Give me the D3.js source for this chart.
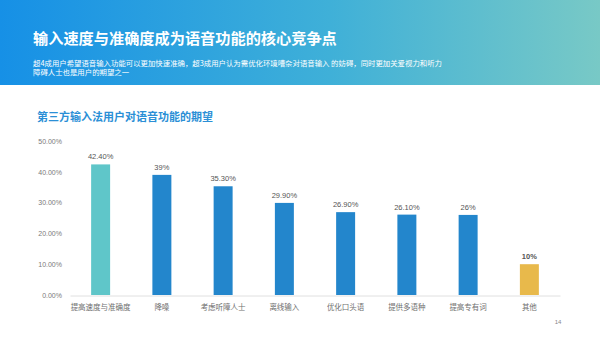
<!DOCTYPE html>
<html>
<head>
<meta charset="utf-8">
<script src="https://cdn.jsdelivr.net/npm/d3@7"></script>
<style>
  html, body { margin: 0; padding: 0; background: #fff; }
  svg { display: block; font-family: "Noto Sans CJK SC", "Noto Sans", sans-serif; }
</style>
</head>
<body>
<svg id="chart" width="600" height="337"></svg>
<script>
// Expectations of third-party IME users for voice input (%)
const categories = ["提高速度与准确度", "降噪", "考虑听障人士", "离线输入", "优化口头语", "提供多语种", "提高专有词", "其他"];
const values = [42.4, 39, 35.3, 29.9, 26.9, 26.1, 26, 10];
const valueLabels = ["42.40%", "39%", "35.30%", "29.90%", "26.90%", "26.10%", "26%", "10%"];
const yTicks = [0, 10, 20, 30, 40, 50];

const title = "输入速度与准确度成为语音功能的核心竞争点";
const subtitleLines = [
  "超4成用户希望语音输入功能可以更加快速准确，超3成用户认为需优化环境嘈杂对语音输入 的妨碍，同时更加关爱视力和听力",
  "障碍人士也是用户的期望之一"
];
const chartTitle = "第三方输入法用户对语音功能的期望";
const pageNo = "14";

const svg = d3.select("#chart");

// Header banner with blue-to-teal gradient
const defs = svg.append("defs");
const grad = defs.append("linearGradient").attr("id", "hdr").attr("x1", "0").attr("x2", "1").attr("y1", "0").attr("y2", "0");
grad.append("stop").attr("offset", "0%").attr("stop-color", "#1690e6");
grad.append("stop").attr("offset", "55%").attr("stop-color", "#3fb0d8");
grad.append("stop").attr("offset", "100%").attr("stop-color", "#78c9c6");
svg.append("rect").attr("x", 0).attr("y", 0).attr("width", 600).attr("height", 85).attr("fill", "url(#hdr)");

svg.append("text").attr("x", 33).attr("y", 44)
  .attr("fill", "#fff").attr("font-size", 15.2).attr("font-weight", "bold")
  .text(title);
svg.selectAll("text.sub").data(subtitleLines).join("text")
  .attr("class", "sub")
  .attr("x", 33).attr("y", (d, i) => 65.5 + i * 9.5)
  .attr("fill", "#fff").attr("font-size", 7.4)
  .text(d => d);

svg.append("text").attr("x", 37).attr("y", 121)
  .attr("fill", "#2b8fd6").attr("font-size", 11).attr("font-weight", "bold")
  .text(chartTitle);

// Scales
const x = d3.scaleBand().domain(categories).range([70, 560]).paddingInner(0.69).paddingOuter(0.345);
const y = d3.scaleLinear().domain([0, 50]).range([295, 141]);

const colors = categories.map((c, i) => i === 0 ? "#5fc6c9" : (i === categories.length - 1 ? "#e8b94b" : "#2386cc"));

// Y axis labels
const yAxis = d3.axisLeft(y).tickValues(yTicks).tickFormat(d => d3.format(".2f")(d) + "%").tickSize(0).tickPadding(8);
const gy = svg.append("g").attr("transform", "translate(70,0)").call(yAxis);
gy.select(".domain").remove();
gy.selectAll("text").attr("fill", "#7a7a7a").attr("font-size", 7).attr("font-family", "Liberation Sans, Arial, sans-serif");

// Bars
svg.selectAll("rect.bar").data(values).join("rect")
  .attr("class", "bar")
  .attr("x", (d, i) => x(categories[i]))
  .attr("y", d => y(d))
  .attr("width", x.bandwidth())
  .attr("height", d => y(0) - y(d))
  .attr("fill", (d, i) => colors[i]);

// Value labels
svg.selectAll("text.val").data(values).join("text")
  .attr("class", "val")
  .attr("x", (d, i) => x(categories[i]) + x.bandwidth() / 2)
  .attr("y", d => y(d) - 5)
  .attr("text-anchor", "middle")
  .attr("fill", "#555").attr("font-size", 7.5)
  .attr("font-weight", (d, i) => i === values.length - 1 ? "bold" : "normal")
  .attr("font-family", "Liberation Sans, Arial, sans-serif")
  .text((d, i) => valueLabels[i]);

// X axis
const xAxis = d3.axisBottom(x).tickSize(0).tickPadding(9);
const gx = svg.append("g").attr("transform", "translate(0,295.5)").call(xAxis);
gx.select(".domain").attr("stroke", "#e0e0e0").attr("stroke-width", 1);
gx.selectAll("text").attr("fill", "#6f6f6f").attr("font-size", 7.5).attr("font-family", "Noto Sans CJK SC, sans-serif");

// Page number
svg.append("text").attr("x", 558).attr("y", 324).attr("text-anchor", "middle")
  .attr("fill", "#888").attr("font-size", 6).attr("font-family", "Liberation Sans, Arial, sans-serif")
  .text(pageNo);
</script>
</body>
</html>
